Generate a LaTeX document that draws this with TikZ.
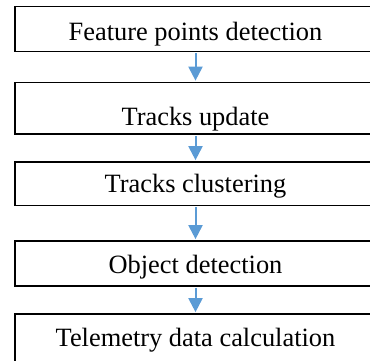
\documentclass[tikz,border=0pt]{standalone}
\usepackage{fontspec}
\setmainfont{Liberation Serif}
\usetikzlibrary{arrows.meta}
\definecolor{arrowblue}{RGB}{91,155,213}
\tikzset{
  stepbox/.style={draw=black, line width=1.9pt, rectangle, inner sep=0pt,
    minimum width=405pt},
  steptext/.style={anchor=base, inner sep=0pt, font=\fontsize{26.4}{30}\selectfont},
  flowarrow/.style={draw=arrowblue, line width=2pt,
    -{Triangle[width=14pt,length=14pt]}, shorten <=0.9pt, shorten >=0.9pt}
}
\begin{document}
\begin{tikzpicture}[x=1pt,y=1pt]
\useasboundingbox (0,0) rectangle (370,-360);
\clip (0,0) rectangle (370,-360);
\node[stepbox, minimum height=45pt] (b1) at (217.5,-29) {};
\node[stepbox, minimum height=51.5pt] (b2) at (217.5,-108.25) {};
\node[stepbox, minimum height=43.5pt] (b3) at (217.5,-183.75) {};
\node[stepbox, minimum height=45pt] (b4) at (217.5,-263.5) {};
\node[stepbox, minimum height=90pt] (b5) at (217.5,-359) {};
\node[steptext] (t1) at (195.5,-40) {Feature points detection};
\node[steptext] (t2) at (195.5,-125) {Tracks update};
\node[steptext] (t3) at (195.5,-192.7) {Tracks clustering};
\node[steptext] (t4) at (195.5,-273) {Object detection};
\node[steptext] (t5) at (195.5,-346.7) {Telemetry data calculation};
\draw[flowarrow] (t1 |- b1.south) -- (t1 |- b2.north);
\draw[flowarrow] (t1 |- b2.south) -- (t1 |- b3.north);
\draw[flowarrow] (t1 |- b3.south) -- (t1 |- b4.north);
\draw[flowarrow] (t1 |- b4.south) -- (t1 |- b5.north);
\end{tikzpicture}
\end{document}
